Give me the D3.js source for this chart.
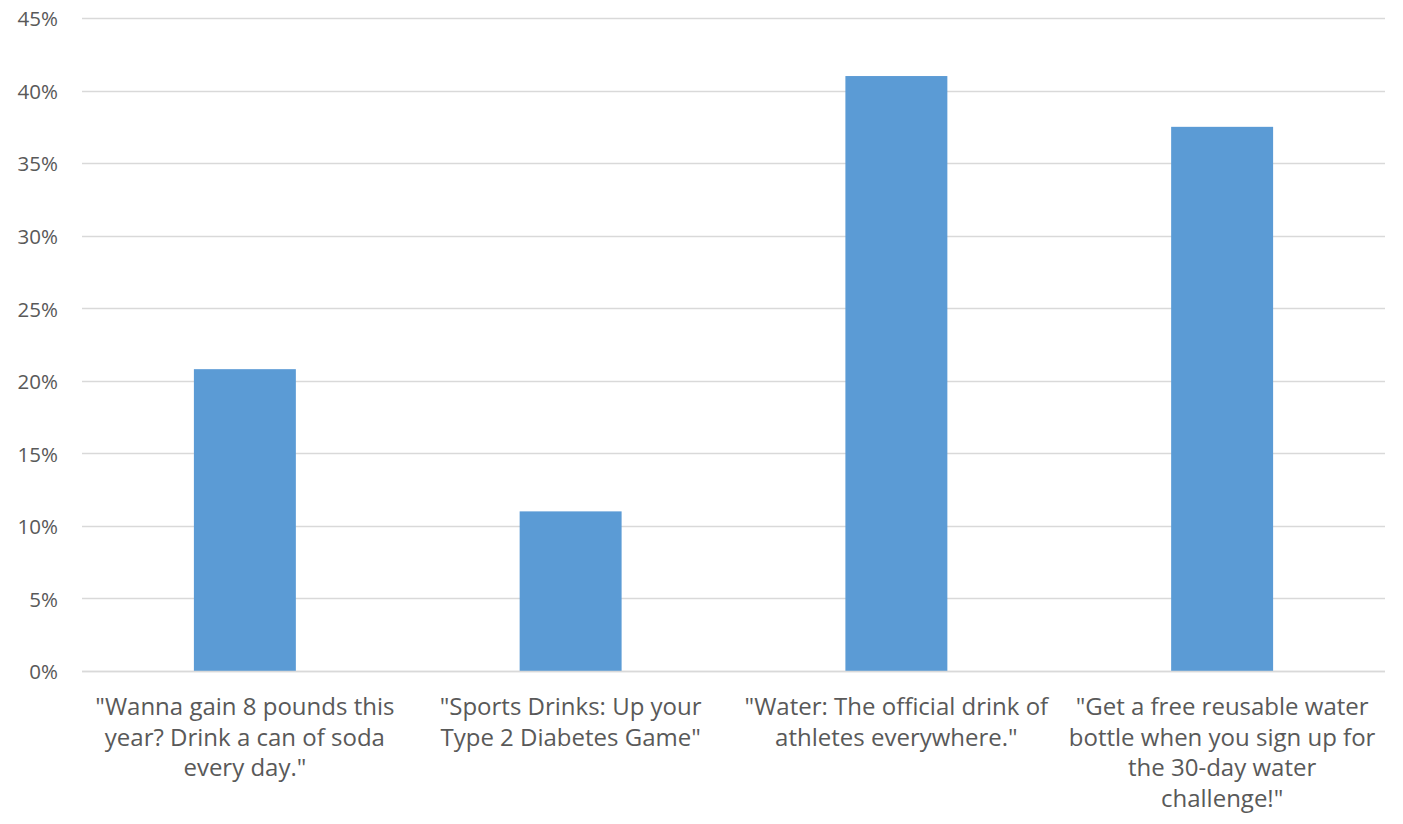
<!DOCTYPE html>
<html>
<head>
<meta charset="utf-8">
<script src="https://cdn.jsdelivr.net/npm/d3@7"></script>
<style>
  html, body { margin: 0; padding: 0; background: #ffffff; }
  svg { display: block; }
  text { font-family: "Open Sans", "Noto Sans", sans-serif; fill: #595959; }
</style>
</head>
<body>
<svg id="chart" width="1403" height="824"></svg>
<script>
// Survey: share of respondents choosing each slogan
const categories = [
  "\"Wanna gain 8 pounds this\nyear? Drink a can of soda\nevery day.\"",
  "\"Sports Drinks: Up your\nType 2 Diabetes Game\"",
  "\"Water: The official drink of\nathletes everywhere.\"",
  "\"Get a free reusable water\nbottle when you sign up for\nthe 30-day water\nchallenge!\""
];
const values = [0.208, 0.110, 0.410, 0.375];
const yTicks = [0, 0.05, 0.10, 0.15, 0.20, 0.25, 0.30, 0.35, 0.40, 0.45];

const W = 1403, H = 824;
const margin = { top: 18, right: 18, bottom: 153, left: 82 };
const plotW = W - margin.left - margin.right;
const plotH = H - margin.top - margin.bottom;

const svg = d3.select("#chart");
const g = svg.append("g").attr("transform", `translate(${margin.left},${margin.top})`);

const x = d3.scaleBand()
  .domain(d3.range(categories.length))
  .range([0, plotW])
  .paddingInner(0.687)
  .paddingOuter(0.3435);

const y = d3.scaleLinear().domain([0, 0.45]).range([plotH, 0]);

// horizontal gridlines
g.append("g")
  .selectAll("line")
  .data(yTicks)
  .join("line")
  .attr("x1", 0)
  .attr("x2", plotW)
  .attr("y1", d => Math.round(y(d)) + 0.5)
  .attr("y2", d => Math.round(y(d)) + 0.5)
  .attr("stroke", "#d9d9d9")
  .attr("stroke-width", 1.3);

// y axis labels
const yAxis = d3.axisLeft(y)
  .tickValues(yTicks)
  .tickFormat(d3.format(".0%"))
  .tickSize(0)
  .tickPadding(24);
const yg = g.append("g").call(yAxis);
yg.select(".domain").remove();
yg.selectAll("text")
  .attr("font-size", 20.5)
  .attr("font-family", "\"Open Sans\", sans-serif")
  .attr("fill", "#595959")
  .attr("dy", "0.38em");

// bars
g.append("g")
  .selectAll("rect")
  .data(values)
  .join("rect")
  .attr("x", (d, i) => x(i))
  .attr("y", d => y(d))
  .attr("width", x.bandwidth())
  .attr("height", d => plotH - y(d))
  .attr("fill", "#5b9bd5");

// baseline
g.append("line")
  .attr("x1", 0).attr("x2", plotW)
  .attr("y1", plotH + 0.5).attr("y2", plotH + 0.5)
  .attr("stroke", "#d9d9d9")
  .attr("stroke-width", 1.3);

// category labels, wrapped on explicit line breaks
const lineH = 30.7;
const labels = g.append("g")
  .selectAll("text")
  .data(categories)
  .join("text")
  .attr("text-anchor", "middle")
  .attr("font-size", 24)
  .attr("transform", (d, i) => `translate(${x(i) + x.bandwidth() / 2},${plotH + 44})`);
labels.each(function (d) {
  const t = d3.select(this);
  d.split("\n").forEach((line, k) => {
    t.append("tspan").attr("x", 0).attr("y", k * lineH).text(line);
  });
});
</script>
</body>
</html>
